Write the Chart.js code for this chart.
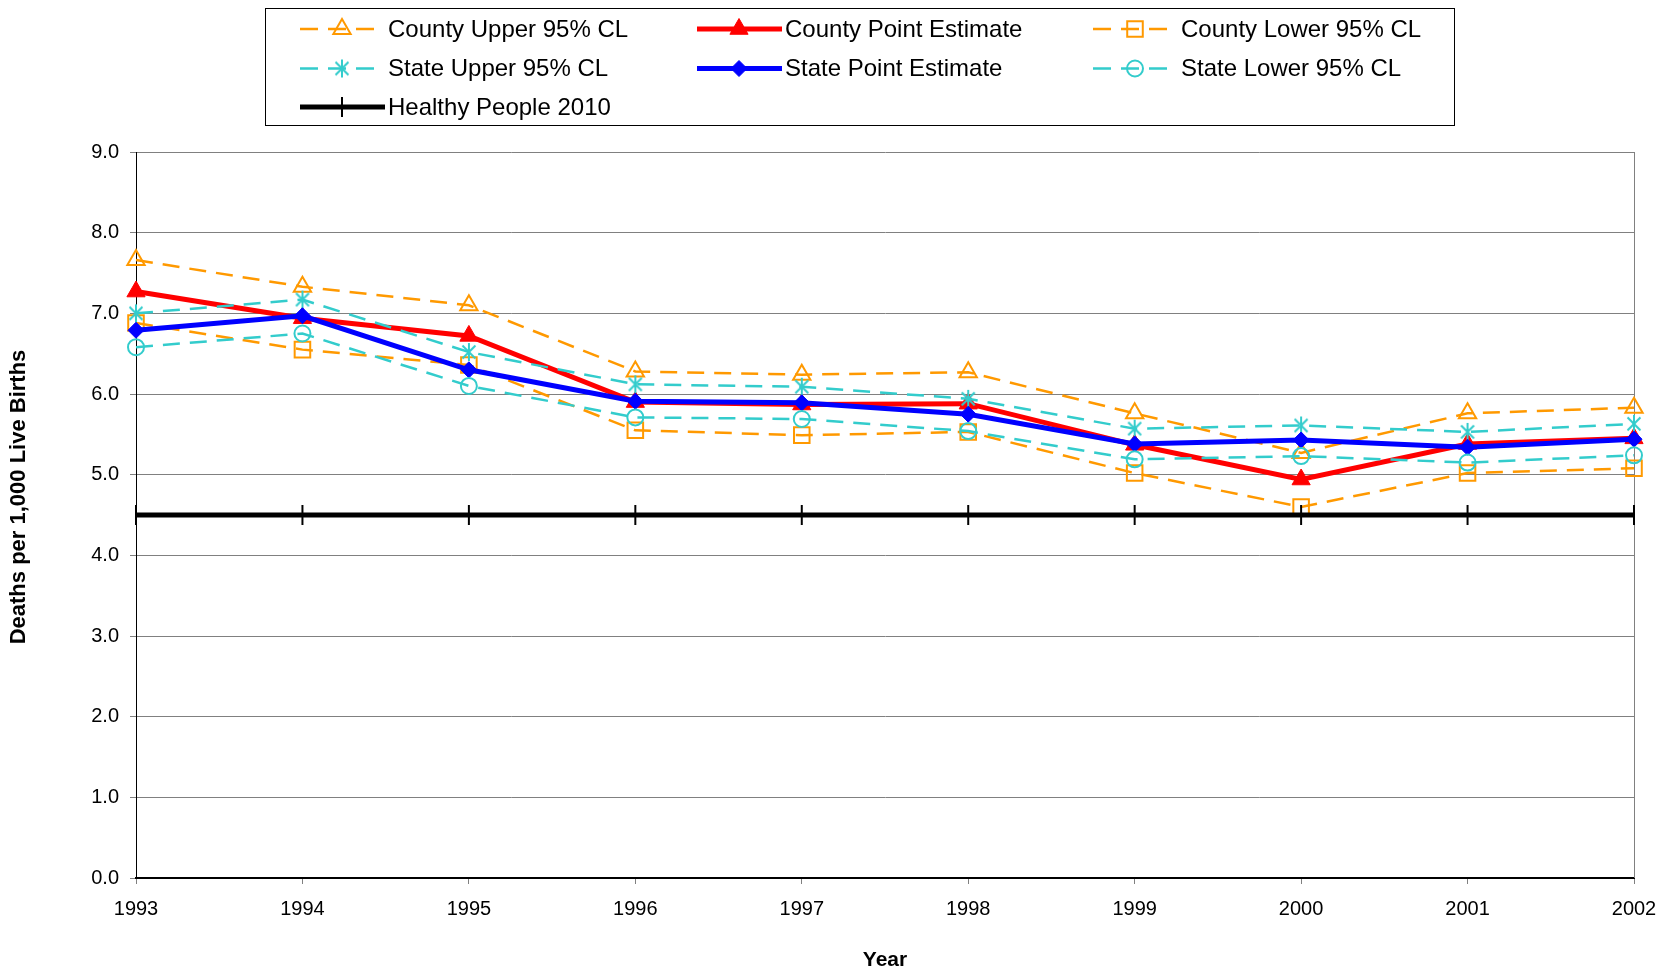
<!DOCTYPE html>
<html>
<head>
<meta charset="utf-8">
<title>Infant mortality trend</title>
<script src="https://cdn.jsdelivr.net/npm/chart.js@4/dist/chart.umd.min.js"></script>
<style>
  html, body { margin: 0; padding: 0; background: #fff; }
  canvas { display: block; }
</style>
</head>
<body>
<canvas id="trend-chart" width="1662" height="970"></canvas>
<script>
'use strict'

// data, deaths per 1,000 live births
let years = ['1993', '1994', '1995', '1996', '1997', '1998', '1999', '2000', '2001', '2002'];
let countyUpper = [7.66, 7.33, 7.10, 6.28, 6.24, 6.27, 5.76, 5.27, 5.76, 5.83];
let countyPoint = [7.27, 6.94, 6.72, 5.90, 5.87, 5.88, 5.37, 4.94, 5.38, 5.45];
let countyLower = [6.88, 6.55, 6.36, 5.55, 5.49, 5.53, 5.02, 4.60, 5.02, 5.08];
let stateUpper = [7.00, 7.17, 6.52, 6.12, 6.09, 5.94, 5.57, 5.61, 5.53, 5.63];
let statePoint = [6.79, 6.97, 6.30, 5.91, 5.89, 5.75, 5.38, 5.43, 5.34, 5.44];
let stateLower = [6.58, 6.75, 6.10, 5.71, 5.69, 5.54, 5.19, 5.23, 5.15, 5.24];
let healthyPeople = [4.5, 4.5, 4.5, 4.5, 4.5, 4.5, 4.5, 4.5, 4.5, 4.5];

let yMin = 0;
let yMax = 9;
let yStep = 1;

const ORANGE = '#FF9900';
const TEAL = '#33CCCC';
const FONT = "'Liberation Sans', Arial, sans-serif";

Chart.defaults.font.family = FONT;
Chart.defaults.color = '#000';

// asterisk marker (x plus vertical bar)
function makeAsterisk(color, r) {
  let c = document.createElement('canvas');
  let s = Math.ceil(r * 2 + 4);
  c.width = s;
  c.height = s;
  let g = c.getContext('2d');
  let m = s / 2;
  let d = r * 0.72;
  g.strokeStyle = color;
  g.lineWidth = 2;
  g.lineCap = 'butt';
  g.beginPath();
  g.moveTo(m, m - r); g.lineTo(m, m + r);
  g.moveTo(m - d, m - d); g.lineTo(m + d, m + d);
  g.moveTo(m + d, m - d); g.lineTo(m - d, m + d);
  g.stroke();
  return c;
}
let asterisk = makeAsterisk(TEAL, 9);

function dashedSeries(label, data, color, style, radius) {
  return {
    label: label,
    data: data,
    borderColor: color,
    borderWidth: 2.5,
    borderDash: [17, 10],
    pointStyle: style,
    pointRadius: radius,
    pointBorderColor: color,
    pointBackgroundColor: 'rgba(0,0,0,0)',
    pointBorderWidth: 2,
    dashed: true,
  };
}

function solidSeries(label, data, color, style, radius) {
  return {
    label: label,
    data: data,
    borderColor: color,
    borderWidth: 5,
    pointStyle: style,
    pointRadius: radius,
    pointBorderColor: color,
    pointBackgroundColor: color,
    pointBorderWidth: 1,
    dashed: false,
  };
}

let datasets = [
  dashedSeries('County Upper 95% CL', countyUpper, ORANGE, 'triangle', 10),
  solidSeries('County Point Estimate', countyPoint, '#FF0000', 'triangle', 10.5),
  dashedSeries('County Lower 95% CL', countyLower, ORANGE, 'rect', 11),
  dashedSeries('State Upper 95% CL', stateUpper, TEAL, asterisk, 9),
  solidSeries('State Point Estimate', statePoint, '#0000FF', 'rectRot', 8),
  dashedSeries('State Lower 95% CL', stateLower, TEAL, 'circle', 8),
  {
    label: 'Healthy People 2010',
    data: healthyPeople,
    borderColor: '#000',
    borderWidth: 5,
    pointStyle: 'line',
    pointRotation: 90,
    pointRadius: 10,
    pointBorderColor: '#000',
    pointBorderWidth: 2,
    dashed: false,
  },
];
// later series sit on top
datasets.forEach(function (ds, i) {
  ds.order = -i;
  ds.tension = 0;
  ds.fill = false;
  ds.clip = false;
  ds.pointHoverRadius = ds.pointRadius;
});

// legend grid: 3 columns, 3 rows
let legendCols = [300, 697, 1093];
let legendRows = [29, 68.5, 107];

function drawMarker(ctx, ds, x, y) {
  ctx.save();
  ctx.setLineDash([]);
  ctx.strokeStyle = ds.pointBorderColor;
  ctx.fillStyle = ds.pointBackgroundColor || 'rgba(0,0,0,0)';
  ctx.lineWidth = ds.pointBorderWidth;
  Chart.helpers.drawPoint(ctx, {
    pointStyle: ds.pointStyle,
    rotation: ds.pointRotation || 0,
    radius: ds.pointRadius,
    borderWidth: ds.pointBorderWidth,
  }, x, y);
  ctx.restore();
}

let decorPlugin = {
  id: 'decor',
  beforeDatasetsDraw(chart) {
    let ctx = chart.ctx;
    let a = chart.chartArea;
    // plot area right edge
    ctx.save();
    ctx.strokeStyle = '#808080';
    ctx.lineWidth = 1;
    ctx.beginPath();
    ctx.moveTo(a.right + 0.5, a.top);
    ctx.lineTo(a.right + 0.5, a.bottom);
    ctx.stroke();
    ctx.restore();
  },
  afterDraw(chart) {
    let ctx = chart.ctx;
    let a = chart.chartArea;
    ctx.save();

    // axis titles
    ctx.fillStyle = '#000';
    ctx.textAlign = 'center';
    ctx.textBaseline = 'middle';
    ctx.font = 'bold 21px ' + FONT;
    ctx.fillText('Year', (a.left + a.right) / 2, 960);
    ctx.save();
    ctx.translate(19, 497);
    ctx.rotate(-Math.PI / 2);
    ctx.font = 'bold 22px ' + FONT;
    ctx.fillText('Deaths per 1,000 Live Births', 0, 0);
    ctx.restore();

    // legend box
    ctx.strokeStyle = '#000';
    ctx.lineWidth = 1;
    ctx.strokeRect(265.5, 8.5, 1189, 117);

    chart.data.datasets.forEach(function (ds, i) {
      let x0 = legendCols[i % 3];
      let y = legendRows[Math.floor(i / 3)];
      ctx.save();
      ctx.strokeStyle = ds.borderColor;
      ctx.lineWidth = ds.borderWidth;
      ctx.setLineDash(ds.dashed ? [18, 10] : []);
      ctx.beginPath();
      ctx.moveTo(x0, y);
      ctx.lineTo(x0 + (ds.dashed ? 75 : 85), y);
      ctx.stroke();
      ctx.restore();
      drawMarker(ctx, ds, x0 + 42, y);

      ctx.fillStyle = '#000';
      ctx.textAlign = 'left';
      ctx.textBaseline = 'middle';
      ctx.font = '24px ' + FONT;
      ctx.fillText(ds.label, x0 + 88, y + 1);
    });
    ctx.restore();
  },
};

let chartContext = document.getElementById('trend-chart').getContext('2d');

let chartConfig = {
  type: 'line',
  data: {
    labels: years,
    datasets: datasets,
  },
  options: {
    responsive: false,
    devicePixelRatio: 1,
    animation: false,
    layout: {
      padding: { top: 152, right: 28, left: 0, bottom: 0 },
    },
    plugins: {
      legend: { display: false },
      tooltip: { enabled: false },
    },
    scales: {
      x: {
        offset: false,
        grid: {
          drawOnChartArea: false,
          tickLength: 6,
          tickColor: '#808080',
        },
        border: { color: '#000', width: 2 },
        ticks: {
          font: { size: 20 },
          color: '#000',
          padding: 13,
          maxRotation: 0,
          autoSkip: false,
        },
        afterFit(scale) {
          scale.height = 92;
          // edge labels may overhang; layout padding covers them
          scale.paddingLeft = 0;
          scale.paddingRight = 0;
        },
      },
      y: {
        min: yMin,
        max: yMax,
        grid: {
          color: function (c) { return c.tick && c.tick.value === 0 ? '#000' : '#808080'; },
          lineWidth: 1,
          tickLength: 6,
          tickColor: '#808080',
        },
        border: { color: '#000', width: 1 },
        ticks: {
          stepSize: yStep,
          font: { size: 20 },
          color: '#000',
          padding: 11,
          callback: function (v) { return v.toFixed(1); },
        },
        afterFit(scale) {
          scale.width = 136;
        },
      },
    },
  },
  plugins: [decorPlugin],
};

let trendChart = new Chart(chartContext, chartConfig);
</script>
</body>
</html>
